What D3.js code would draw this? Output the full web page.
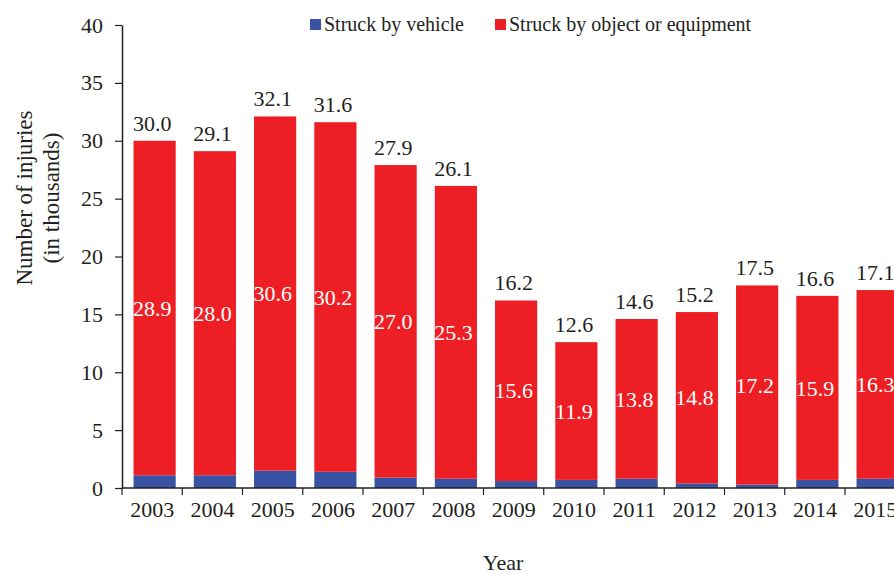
<!DOCTYPE html>
<html>
<head>
<meta charset="utf-8">
<script src="https://cdn.jsdelivr.net/npm/d3@7"></script>
<style>
  body { margin: 0; background: #fff; }
  svg { display: block; }
  text { font-family: "Liberation Serif", "Times New Roman", serif; fill: #231f20; }
</style>
</head>
<body>
<div id="chart"></div>
<script>
//////////////////////////////////////////////////////////////
///////////////////////// Data ///////////////////////////////
//////////////////////////////////////////////////////////////

var years = ["2003", "2004", "2005", "2006", "2007", "2008", "2009",
             "2010", "2011", "2012", "2013", "2014", "2015"];
// struck by vehicle (bottom, blue)
var vehicle = [1.1, 1.1, 1.5, 1.4, 0.9, 0.8, 0.6, 0.7, 0.8, 0.4, 0.3, 0.7, 0.8];
// struck by object or equipment (top, red)
var objectEq = [28.9, 28.0, 30.6, 30.2, 27.0, 25.3, 15.6, 11.9, 13.8, 14.8, 17.2, 15.9, 16.3];
var totals = [30.0, 29.1, 32.1, 31.6, 27.9, 26.1, 16.2, 12.6, 14.6, 15.2, 17.5, 16.6, 17.1];
var yTicks = [0, 5, 10, 15, 20, 25, 30, 35, 40];
var seriesNames = ["Struck by vehicle", "Struck by object or equipment"];

//////////////////////////////////////////////////////////////
/////////////////////// Settings /////////////////////////////
//////////////////////////////////////////////////////////////

var width = 894, height = 574;
var plotLeft = 122, plotTop = 25, plotBottom = 488;
var step = 60.25;
var barShift = 2.5;
var fontSize = 22;

var colors = {vehicle: "#3953a4", object: "#ed1f24"};
var ink = "#231f20";

var svg = d3.select("#chart").append("svg")
    .attr("width", width)
    .attr("height", height);

//////////////////////////////////////////////////////////////
///////////////////// Scales & Axes //////////////////////////
//////////////////////////////////////////////////////////////

var xScale = d3.scaleBand()
    .domain(years)
    .range([plotLeft, plotLeft + step * years.length])
    .paddingInner(0.3)
    .paddingOuter(0.15);

var yScale = d3.scaleLinear().domain([0, 40]).range([plotBottom, plotTop]);

var bandCenter = function(y) { return xScale(y) + xScale.bandwidth() / 2; };
var bandStart = function(i) { return plotLeft + i * xScale.step(); };

//Y axis
var yAxis = svg.append("g")
    .attr("transform", "translate(" + plotLeft + ",0)")
    .call(d3.axisLeft(yScale).tickValues(yTicks).tickSize(7).tickPadding(12).tickSizeOuter(0));
yAxis.select(".domain").attr("stroke", ink).attr("stroke-width", 1.5);
yAxis.selectAll(".tick line").attr("stroke", ink).attr("stroke-width", 1.2);
yAxis.selectAll(".tick text")
    .style("font-size", fontSize + "px")
    .style("font-family", "'Liberation Serif', 'Times New Roman', serif")
    .attr("fill", ink);

//Bars - stacked
var stackData = years.map(function(y, i) {
    return {year: y, vehicle: vehicle[i], object: objectEq[i]};
});
var stacked = d3.stack().keys(["vehicle", "object"])(stackData);

svg.selectAll(".series")
    .data(stacked).enter()
    .append("g")
        .attr("class", "series")
        .attr("fill", function(d) { return colors[d.key]; })
    .selectAll("rect")
    .data(function(d) { return d; }).enter()
    .append("rect")
        .attr("x", function(d) { return xScale(d.data.year) + barShift; })
        .attr("width", xScale.bandwidth())
        .attr("y", function(d) { return yScale(d[1]); })
        .attr("height", function(d) { return yScale(d[0]) - yScale(d[1]); });

//X axis line + ticks between categories
svg.append("line")
    .attr("x1", plotLeft).attr("x2", width)
    .attr("y1", plotBottom).attr("y2", plotBottom)
    .attr("stroke", ink).attr("stroke-width", 1.5);

svg.selectAll(".xtick")
    .data(d3.range(years.length + 1)).enter()
    .append("line")
        .attr("class", "xtick")
        .attr("x1", function(i) { return bandStart(i); })
        .attr("x2", function(i) { return bandStart(i); })
        .attr("y1", plotBottom).attr("y2", plotBottom + 7)
        .attr("stroke", ink).attr("stroke-width", 1.2);

svg.selectAll(".xlabel")
    .data(years).enter()
    .append("text")
        .attr("class", "xlabel")
        .attr("x", function(d) { return bandCenter(d); })
        .attr("y", plotBottom + 29)
        .attr("text-anchor", "middle")
        .style("font-size", fontSize + "px")
        .text(function(d) { return d; });

//Total labels above bars
svg.selectAll(".totalLabel")
    .data(years).enter()
    .append("text")
        .attr("class", "totalLabel")
        .attr("x", function(d) { return bandCenter(d); })
        .attr("y", function(d, i) { return yScale(totals[i]) - 10; })
        .attr("text-anchor", "middle")
        .style("font-size", fontSize + "px")
        .text(function(d, i) { return totals[i].toFixed(1); });

//Red segment labels (white, centered in segment)
svg.selectAll(".innerLabel")
    .data(stacked[1]).enter()
    .append("text")
        .attr("class", "innerLabel")
        .attr("x", function(d) { return bandCenter(d.data.year); })
        .attr("y", function(d) { return yScale((d[0] + d[1]) / 2); })
        .attr("dy", "0.35em")
        .attr("text-anchor", "middle")
        .style("font-size", fontSize + "px")
        .style("fill", "#fff")
        .text(function(d) { return d.data.object.toFixed(1); });

//////////////////////////////////////////////////////////////
///////////////////////// Titles /////////////////////////////
//////////////////////////////////////////////////////////////

var yTitle = svg.append("text")
    .attr("transform", "translate(32,198) rotate(-90)")
    .attr("text-anchor", "middle")
    .style("font-size", "23px");
yTitle.append("tspan").attr("x", 0).attr("dy", 0).text("Number of injuries");
yTitle.append("tspan").attr("x", 0).attr("dy", 27).text("(in thousands)");

svg.append("text")
    .attr("x", 503)
    .attr("y", 570)
    .attr("text-anchor", "middle")
    .style("font-size", "22px")
    .text("Year");

//////////////////////////////////////////////////////////////
///////////////////////// Legend /////////////////////////////
//////////////////////////////////////////////////////////////

var legendX = [310, 495];
var legendKeys = ["vehicle", "object"];
var legend = svg.selectAll(".legendItem")
    .data(seriesNames).enter()
    .append("g")
        .attr("class", "legendItem")
        .attr("transform", function(d, i) { return "translate(" + legendX[i] + ",19)"; });

legend.append("rect")
    .attr("width", 11).attr("height", 11)
    .attr("fill", function(d, i) { return colors[legendKeys[i]]; });

legend.append("text")
    .attr("x", 14)
    .attr("y", 12)
    .style("font-size", "20px")
    .text(function(d) { return d; });
</script>
</body>
</html>
